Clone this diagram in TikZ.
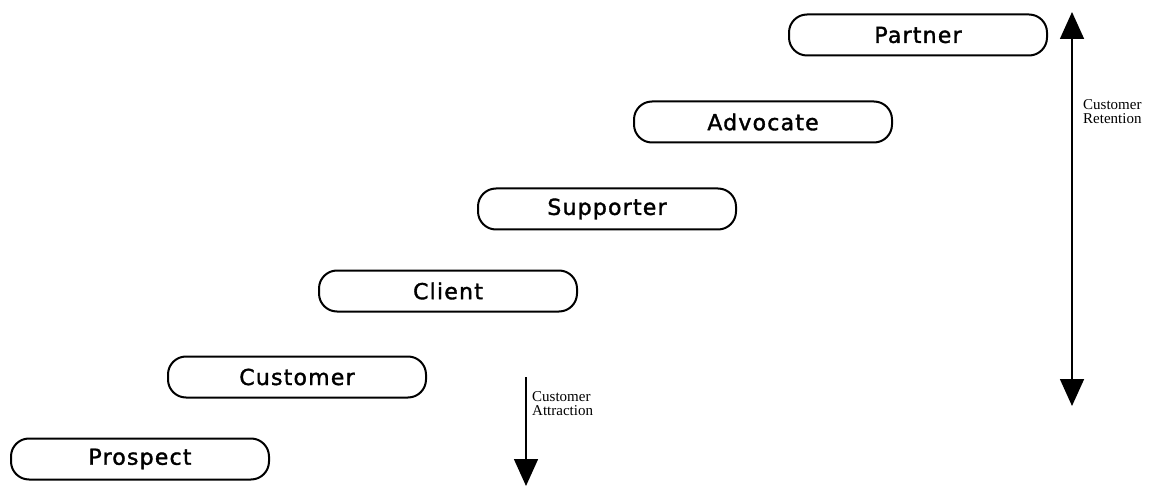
\documentclass[tikz,border=0pt]{standalone}
\usepackage{fontspec}
\setmainfont{Liberation Serif}
\newfontfamily\stagefont[LetterSpace=5.5,FakeBold=1.6]{DejaVu Sans}
\usetikzlibrary{arrows.meta}
\tikzset{
  stagebox/.style={draw, line width=2pt, rounded corners=18pt,
    minimum width=258pt, minimum height=41pt, inner sep=0pt,
    font=\stagefont\fontsize{22}{24}\selectfont},
  flow/.style={line width=1.6pt, -{Triangle[length=27pt,width=24pt]}},
  flowboth/.style={line width=1.6pt, {Triangle[length=27pt,width=24pt]}-{Triangle[length=27pt,width=24pt]}},
  tag/.style={anchor=north west, align=left, inner sep=0pt,
    font=\fontsize{15}{14.3}\selectfont}
}
\begin{document}
\begin{tikzpicture}[x=1pt,y=-1pt]
\useasboundingbox (0,0) rectangle (1150,486);
% the stages of the loyalty ladder
\node[stagebox] (prospect)  at (140,459) {Prospect};
\node[stagebox] (customer)  at (297,377) {Customer};
\node[stagebox] (client)    at (448,291) {Client};
\node[stagebox] (supporter) at (607,209) {Supporter};
\node[stagebox] (advocate)  at (763,122) {Advocate};
\node[stagebox] (partner)   at (918,35)  {Partner};
% attraction arrow
\coordinate (attrTop) at (526,377);
\coordinate (attrEnd) at (526,486);
\draw[flow] (attrTop) -- (attrEnd);
\node[tag] (attrLabel) at (532,391) {Customer\\Attraction};
% retention arrow
\coordinate (retTop) at (1072,12);
\coordinate (retEnd) at (1072,406);
\draw[flowboth] (retEnd) -- (retTop);
\node[tag] (retLabel) at (1083,99) {Customer\\Retention};
\end{tikzpicture}
\end{document}
